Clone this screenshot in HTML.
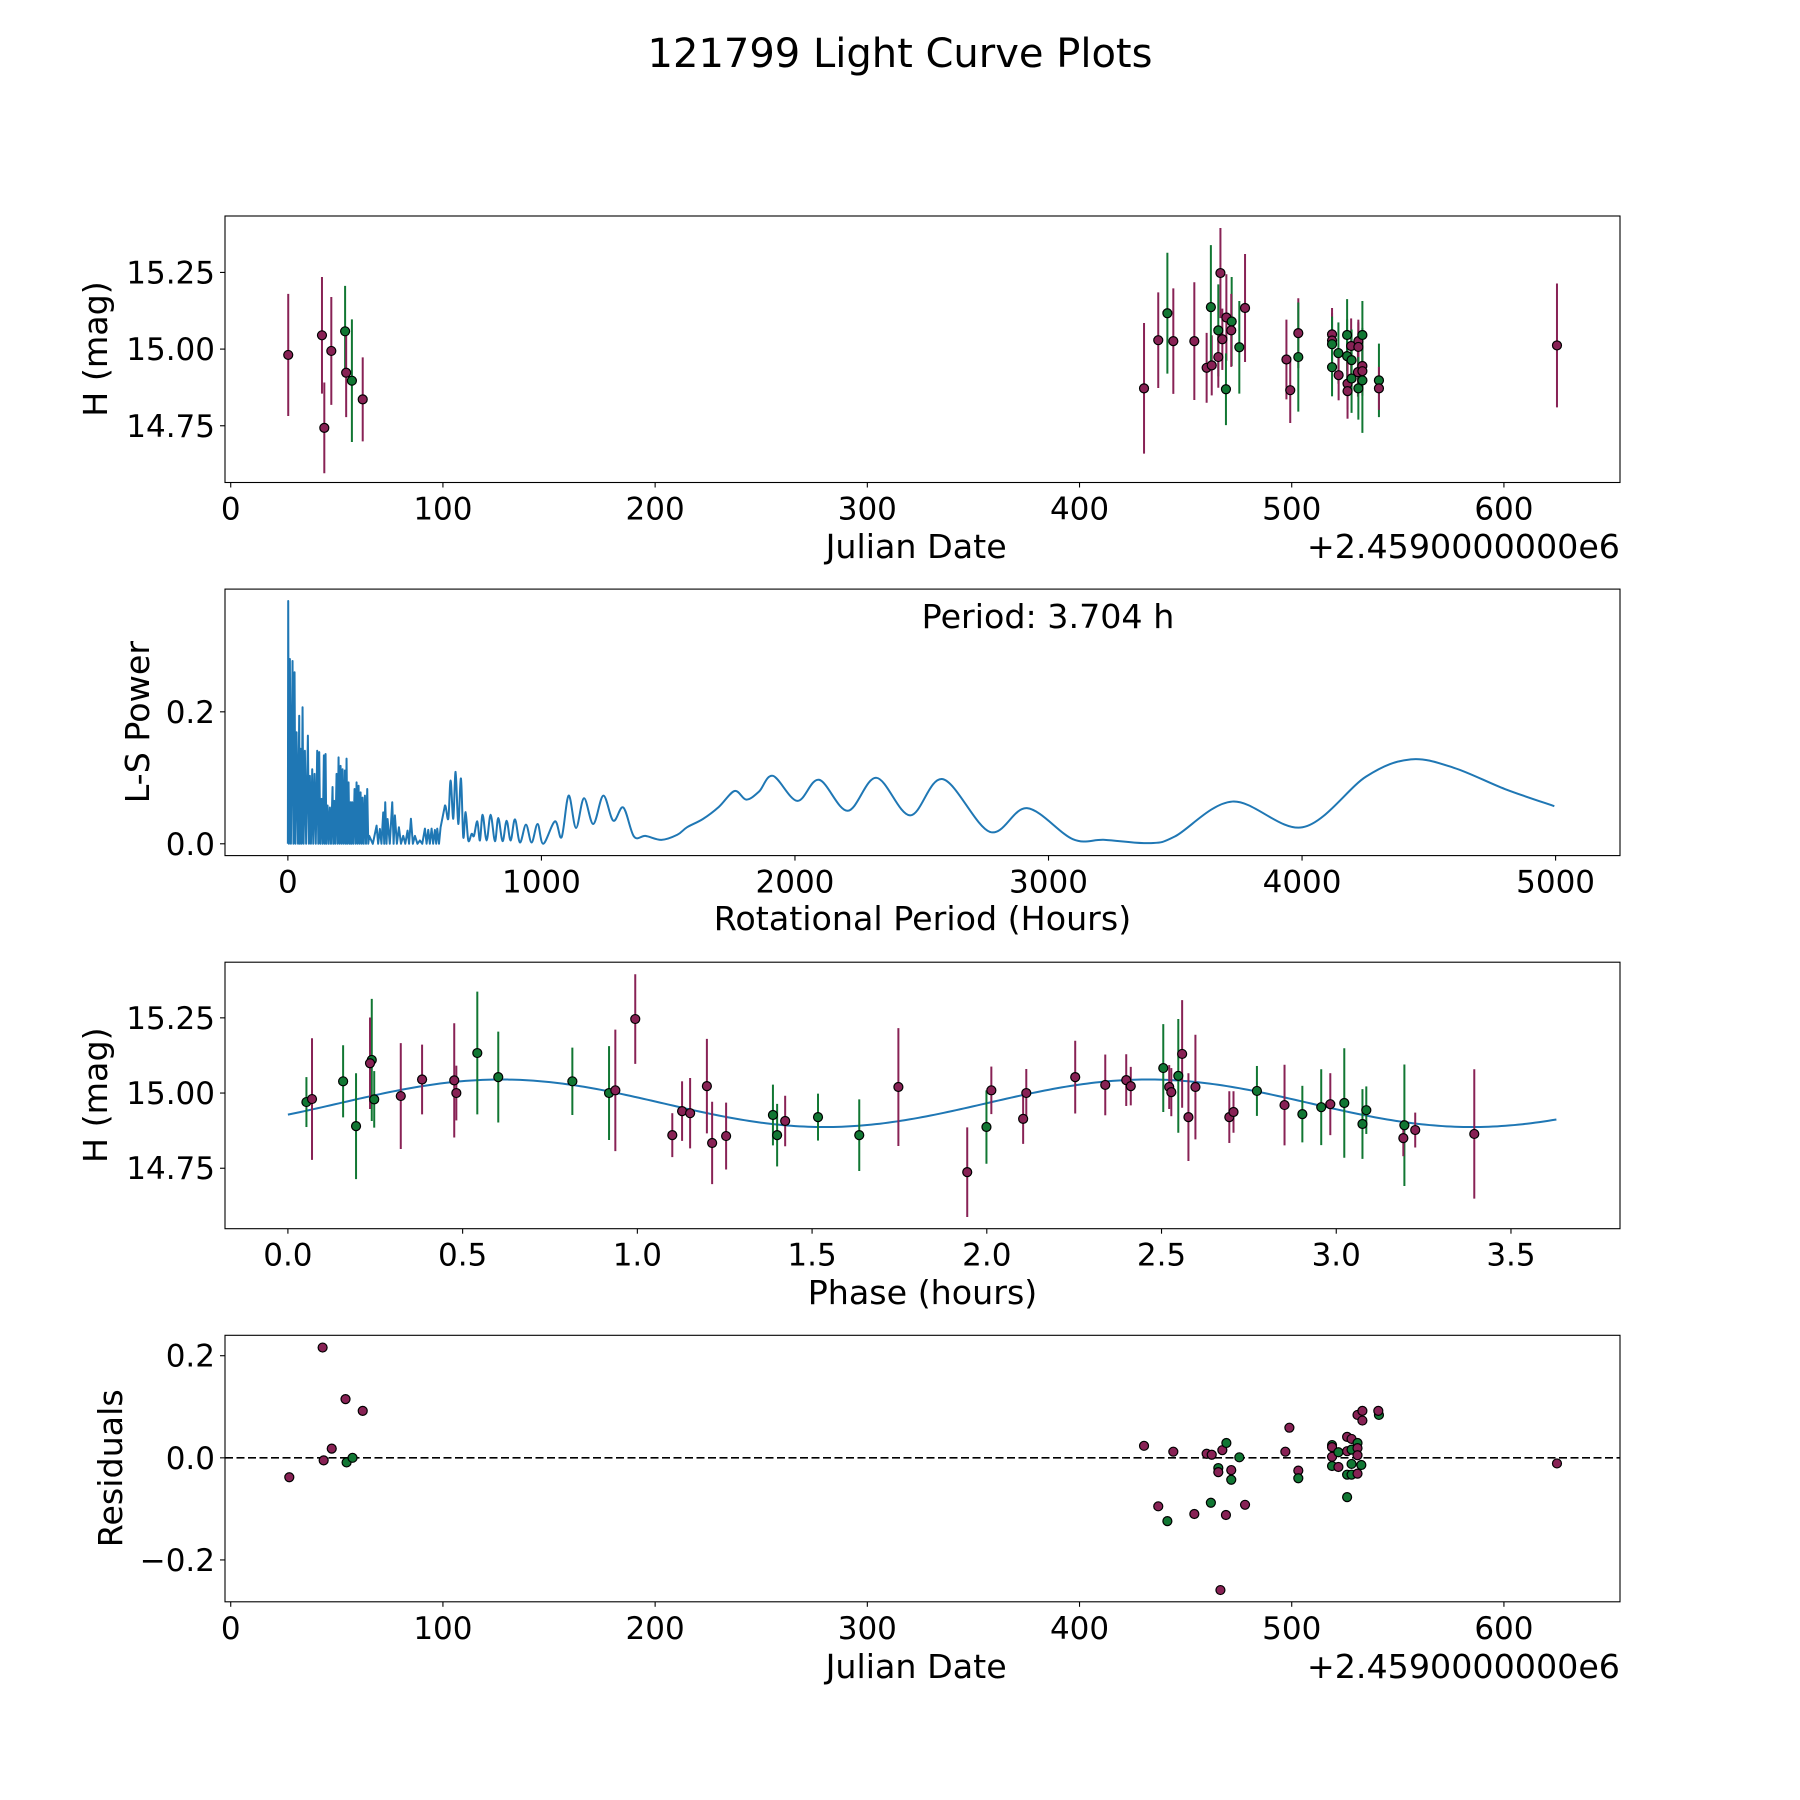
<!DOCTYPE html>
<html><head><meta charset="utf-8">
<style>
html,body{margin:0;padding:0;background:#fff;}
svg{display:block;font-family:"DejaVu Sans","Liberation Sans",sans-serif;}
</style></head>
<body>
<svg id="fig" width="1800" height="1800" viewBox="0 0 1800 1800" xmlns="http://www.w3.org/2000/svg">
<rect x="0" y="0" width="1800" height="1800" fill="#fff"/>
<text x="900" y="67" text-anchor="middle" font-size="40" fill="#000">121799 Light Curve Plots</text>
</svg>
<script>
// ---------- Panel 1: light curve vs Julian date ----------
const lcDates = [27.1,43.0,44.1,47.4,53.9,54.4,57.1,62.2,
 430.4,437.1,441.4,444.2,454.1,459.9,462.3,461.9,466.4,465.4,465.4,467.3,469.2,469.0,471.7,471.5,475.3,478.0,
 497.5,499.3,503.1,503.1,519.0,519.0,519.0,519.0,522.0,522.1,526.1,526.1,526.3,526.3,528.0,528.2,528.2,
 531.4,531.4,531.2,531.4,533.3,533.3,533.3,533.3,541.1,541.1,625.0];
const lcMags = [14.981,15.045,14.743,14.994,15.058,14.923,14.897,14.836,
 14.872,15.029,15.117,15.026,15.026,14.939,14.947,15.137,15.248,15.061,14.974,15.032,15.103,14.869,15.090,15.061,15.006,15.134,
 14.966,14.866,15.052,14.974,15.048,15.028,15.016,14.941,14.987,14.915,15.046,14.977,14.887,14.863,15.010,14.964,14.904,
 15.026,15.007,14.925,14.872,15.046,14.945,14.928,14.898,14.898,14.872,15.012];
const lcErrs = [0.199,0.19,0.148,0.176,0.148,0.145,0.2,0.137,
 0.213,0.156,0.197,0.172,0.192,0.114,0.098,0.202,0.147,0.15,0.1,0.1,0.141,0.117,0.145,0.119,0.151,0.176,
 0.13,0.107,0.114,0.178,0.086,0.09,0.09,0.095,0.1,0.082,0.117,0.12,0.084,0.09,0.09,0.1,0.112,
 0.07,0.08,0.08,0.102,0.111,0.08,0.08,0.171,0.12,0.07,0.202];
const lcBands = ['r','r','r','r','g','r','g','r',
 'r','r','g','r','r','r','r','g','r','g','r','r','r','g','g','r','g','r',
 'r','r','r','g','r','r','g','g','g','r','g','g','r','r','r','g','g',
 'r','r','r','g','g','r','r','g','g','r','r'];
const p1XTicks = [0,100,200,300,400,500,600];
const p1YTicks = [14.75,15.00,15.25];
const p1YTickLabels = ['14.75','15.00','15.25'];

// ---------- Panel 2: Lomb-Scargle periodogram ----------
const lsPeriods = [0,1.3,4,7.9,12,18.4,22,26.3,30,34.2,40,44.7,47,50.0,54,57.9,62,67.1,72,78.9,83,86.8,91,96.0,100,105.2,110,115.7,120,123.6,128,132.8,137,142.0,145,148.6,152,156.5,161,165.7,170,176.2,179,182.8,187,192.0,196,199.9,204,207.8,212,215.7,220,224.9,228,231.4,235,239.3,243,247.2,250,253.8,258,263.0,267,270.9,275,278.8,283,286.7,291,294.6,299,303.8,308,313.0,317,320.9,
 335,349.8,356,362.9,369,376.1,380,384.0,389,393.2,402,411.6,417,422.1,430,437.9,446,455.0,463,472.1,478,485.3,493,501.1,511,520.8,530,540.5,547,553.6,560,566.8,573,579.9,585,589.1,596,602.3,
 619.4,632.6,641.8,652.3,661.5,672.0,682.6,691.8,701.0,711.5,724.7,733.9,747.0,757.5,768.0,783.8,799.6,816.7,829.8,846.9,862.7,878.5,895.6,915.3,939.0,961.3,985.0,1007.4,1053.4,1079.7,1107.3,1136.3,1167.8,1204.6,1244.1,1283.5,1323,
 1365,1410,1473,1536,1574,1637,1700,1762,1808,1858,1913,2009,2095,2208,2321,2454,2583,2769,2915,3096,3222,3398,3498,3725,4002,4253,4429,4600,4800,4995];
const lsPowers = [0,0.368,0,0.280,0,0.277,0,0.260,0,0.169,0,0.194,0,0.144,0,0.207,0,0.141,0,0.164,0,0.103,0,0.113,0,0.106,0,0.141,0,0.139,0,0.068,0,0.134,0,0.136,0,0.058,0,0.055,0,0.086,0,0.065,0,0.106,0,0.131,0,0.118,0,0.113,0,0.111,0,0.129,0,0.093,0,0.063,0,0.063,0,0.083,0,0.093,0,0.088,0,0.078,0,0.070,0,0.073,0,0.083,0,0.012,
 0,0.0275,0,0.0225,0,0.0477,0,0.063,0,0.0376,0,0.063,0,0.043,0,0.025,0,0.012,0,0.020,0,0.038,0,0.012,0,0.005,0,0.023,0,0.021,0,0.023,0,0.021,0,0.023,0,0.025,
 0.058,0.038,0.096,0.038,0.109,0.030,0.099,0.010,0.048,0.005,0.015,0.012,0.034,0.005,0.044,0.005,0.044,0.004,0.039,0.004,0.035,0.005,0.037,0.002,0.029,0.002,0.030,0.0,0.034,0.010,0.073,0.024,0.069,0.030,0.073,0.035,0.055,
 0.011,0.012,0.006,0.0137,0.025,0.0376,0.056,0.08,0.067,0.079,0.103,0.065,0.097,0.05,0.1,0.043,0.098,0.018,0.054,0.007,0.006,0.001,0.011,0.064,0.025,0.102,0.128,0.115,0.083,0.057];
const smoothFromPeriod = 619;
const p2XTicks = [0,1000,2000,3000,4000,5000];
const p2YTicks = [0.0,0.2];
const p2YTickLabels = ['0.0','0.2'];
const bestPeriod = 3.704;

// ---------- Panel 3: phased light curve ----------
const phPhases = [0.053,0.069,0.158,0.195,0.24,0.235,0.247,0.323,0.384,0.476,0.482,0.542,0.602,0.814,0.919,0.937,0.994,1.1,1.128,1.151,1.199,1.214,
 1.254,1.388,1.4,1.423,1.517,1.635,1.747,1.944,1.999,2.013,2.104,2.113,2.253,2.339,2.399,2.412,
 2.505,2.522,2.528,2.548,2.559,2.577,2.597,2.694,2.706,2.773,2.852,2.903,2.957,2.983,3.023,3.075,3.086,3.195,3.192,3.226,3.395];
const phMags = [14.970,14.980,15.039,14.890,15.110,15.099,14.979,14.990,15.045,15.042,15.000,15.133,15.053,15.039,15.000,15.009,15.246,14.860,14.940,14.933,15.023,14.834,
 14.857,14.927,14.860,14.907,14.920,14.860,15.020,14.737,14.887,15.009,14.914,15.000,15.053,15.027,15.043,15.023,
 15.083,15.020,15.003,15.057,15.130,14.920,15.020,14.920,14.937,15.007,14.960,14.930,14.953,14.963,14.967,14.897,14.943,14.893,14.850,14.877,14.864];
const phErrs = [0.083,0.202,0.12,0.176,0.203,0.152,0.094,0.176,0.116,0.19,0.091,0.204,0.151,0.112,0.156,0.202,0.149,0.073,0.099,0.117,0.157,0.137,
 0.111,0.101,0.104,0.084,0.078,0.119,0.196,0.149,0.122,0.079,0.083,0.08,0.121,0.101,0.086,0.064,
 0.146,0.073,0.08,0.189,0.179,0.146,0.174,0.086,0.069,0.083,0.134,0.094,0.126,0.103,0.182,0.116,0.079,0.202,0.06,0.058,0.215];
const phBands = ['g','r','g','g','g','r','g','r','r','r','r','g','g','g','g','r','r','r','r','r','r','r',
 'r','g','g','r','g','g','r','r','g','r','r','r','r','r','r','r',
 'g','r','r','g','r','r','r','r','r','g','r','g','g','r','g','g','g','g','r','r','r'];
const fitMean = 14.966, fitAmp = 0.079, fitPeakPhase = 0.61, fitEndPhase = 3.63;
const p3XTicks = [0.0,0.5,1.0,1.5,2.0,2.5,3.0,3.5];
const p3XTickLabels = ['0.0','0.5','1.0','1.5','2.0','2.5','3.0','3.5'];
const p3YTicks = [14.75,15.00,15.25];
const p3YTickLabels = ['14.75','15.00','15.25'];

// ---------- Panel 4: residuals ----------
const resDates = [27.6,43.3,43.8,47.6,54.1,54.6,57.4,62.2,
 430.4,437.1,441.4,444.2,454.1,459.9,462.3,461.9,466.4,465.4,465.4,467.3,469.2,469.0,471.5,471.5,475.3,478.0,
 497.0,498.9,503.1,503.1,519.0,519.0,519.0,519.0,522.0,522.0,526.1,526.1,526.1,526.1,528.2,528.2,528.2,528.2,
 531.0,531.0,531.0,531.0,531.0,533.3,533.3,532.8,541.1,540.8,625.0];
const resVals = [-0.038,0.216,-0.005,0.018,0.115,-0.009,0.0,0.092,
 0.0235,-0.095,-0.124,0.012,-0.11,0.008,0.006,-0.088,-0.259,-0.02,-0.028,0.015,0.029,-0.112,-0.024,-0.043,0.001,-0.092,
 0.012,0.059,-0.025,-0.04,0.025,0.021,0.002,-0.016,0.011,-0.018,0.041,0.013,-0.033,-0.077,0.037,0.016,-0.012,-0.033,
 0.084,0.029,0.019,0.005,-0.031,0.092,0.073,-0.014,0.084,0.092,-0.011];
const resBands = ['r','r','r','r','r','g','g','r',
 'r','r','g','r','r','r','r','g','r','g','r','r','g','r','r','g','g','r',
 'r','r','r','g','g','r','r','g','g','r','r','r','g','g','r','g','g','g',
 'r','g','r','r','r','r','r','g','g','r','r'];
const p4XTicks = [0,100,200,300,400,500,600];
const p4YTicks = [-0.2,0.0,0.2];
const p4YTickLabels = ['\u22120.2','0.0','0.2'];

const NS = 'http://www.w3.org/2000/svg';
const svg = document.getElementById('fig');
const COL = {r:'#882255', g:'#117733'};
const LBL = 33.3;
const TK = 31;
function mk(tag, attrs, parent){
  const e = document.createElementNS(NS, tag);
  for (const k in attrs) e.setAttribute(k, attrs[k]);
  (parent||svg).appendChild(e);
  return e;
}
function axes(top,bottom,xmin,xmax,ymin,ymax){
  const L=225,R=1620;
  return {L,R,top,bottom,
    x:v=>L+(v-xmin)/(xmax-xmin)*(R-L),
    y:v=>bottom-(v-ymin)/(ymax-ymin)*(bottom-top)};
}
function frame(ax, name){
  const g = mk('g',{});
  
  
  return g;
}
function spines(ax, g){
  const r = mk('rect',{x:ax.L,y:ax.top,width:ax.R-ax.L,height:ax.bottom-ax.top,fill:'none',stroke:'#000','stroke-width':1.1},g);
  
  
}
function xticks(ax, g, ticks, labels){
  ticks.forEach((t,i)=>{
    const X = ax.x(t);
    const tk = mk('line',{x1:X,x2:X,y1:ax.bottom,y2:ax.bottom+5,stroke:'#000','stroke-width':1.1},g);
    
    
    const tx = mk('text',{x:X,y:ax.bottom+37,'text-anchor':'middle','font-size':TK,fill:'#000'},g);
    tx.textContent = labels ? labels[i] : String(t);
    
    
  });
}
function yticks(ax, g, ticks, labels){
  ticks.forEach((t,i)=>{
    const Y = ax.y(t);
    const tk = mk('line',{x1:ax.L-5,x2:ax.L,y1:Y,y2:Y,stroke:'#000','stroke-width':1.1},g);
    
    
    const tx = mk('text',{x:ax.L-10,y:Y+11,'text-anchor':'end','font-size':TK,fill:'#000'},g);
    tx.textContent = labels[i];
    
    
  });
}
function label(g, x, y, txt, rot, name, anchor, fs){
  const t = mk('text',{x:x,y:y,'text-anchor':anchor||'middle','font-size':fs||LBL,fill:'#000'},g);
  if (rot) t.setAttribute('transform','rotate(-90 '+x+' '+y+')');
  t.textContent = txt;
  
  
}
function errPoints(ax, g, xs, ys, es, bs){
  xs.forEach((v,i)=>{
    const X=ax.x(v);
    const eb = mk('line',{x1:X,x2:X,y1:ax.y(ys[i]+es[i]),y2:ax.y(ys[i]-es[i]),stroke:COL[bs[i]],'stroke-width':2},g);
    
    
  });
  xs.forEach((v,i)=>{
    const c = mk('circle',{cx:ax.x(v),cy:ax.y(ys[i]),r:4.5,fill:COL[bs[i]],stroke:'#000','stroke-width':1.2},g);
    
    
  });
}

// Panel 1
const a1 = axes(216,482.5,-2.7,654.7,14.565,15.434);
const g1 = frame(a1,'light-curve-panel');
errPoints(a1,g1,lcDates,lcMags,lcErrs,lcBands);
spines(a1,g1);
xticks(a1,g1,p1XTicks);
yticks(a1,g1,p1YTicks,p1YTickLabels);
label(g1,a1.x(323),558,'Julian Date',false,'x-axis-title');
label(g1,1620,558,'+2.4590000000e6',false,'x-offset-label','end');
label(g1,107,a1.top+133,'H (mag)',true,'y-axis-title');

// Panel 2
const a2 = axes(589.1,855.6,-248,5254,-0.0179,0.386);
const g2 = frame(a2,'periodogram-panel');
const px = lsPeriods.map(p=>a2.x(p)), py = lsPowers.map(v=>a2.y(v));
let pd = 'M'+px[0].toFixed(2)+' '+py[0].toFixed(2);
for (let i=1;i<px.length;i++){
  if (lsPeriods[i-1] >= smoothFromPeriod){
    const i0=Math.max(0,i-2), i3=Math.min(px.length-1,i+1);
    const c1x=px[i-1]+(px[i]-px[i0])/6, c1y=py[i-1]+(py[i]-py[i0])/6;
    const c2x=px[i]-(px[i3]-px[i-1])/6, c2y=py[i]-(py[i3]-py[i-1])/6;
    pd += ' C'+c1x.toFixed(2)+' '+c1y.toFixed(2)+' '+c2x.toFixed(2)+' '+c2y.toFixed(2)+' '+px[i].toFixed(2)+' '+py[i].toFixed(2);
  } else {
    pd += ' L'+px[i].toFixed(2)+' '+py[i].toFixed(2);
  }
}
const lsLine = mk('path',{d:pd,fill:'none',stroke:'#1f77b4','stroke-width':2,'stroke-linejoin':'round'},g2);


spines(a2,g2);
xticks(a2,g2,p2XTicks);
yticks(a2,g2,p2YTicks,p2YTickLabels);
label(g2,(a2.L+a2.R)/2,930,'Rotational Period (Hours)',false,'x-axis-title');
label(g2,149,a2.top+133,'L-S Power',true,'y-axis-title');
label(g2,1048,628,'Period: '+bestPeriod.toFixed(3)+' h',false,'period-annotation');

// Panel 3
const a3 = axes(962.2,1228.7,-0.18,3.812,14.549,15.435);
const g3 = frame(a3,'phased-light-curve-panel');
const fitPts=[];
for(let k=0;k<=300;k++){
  const ph = fitEndPhase*k/300;
  const m = fitMean + fitAmp*Math.cos(2*Math.PI*(ph-fitPeakPhase)/(bestPeriod/2));
  fitPts.push((k?'L':'M')+a3.x(ph).toFixed(2)+' '+a3.y(m).toFixed(2));
}
const fit = mk('path',{d:fitPts.join(' '),fill:'none',stroke:'#1f77b4','stroke-width':2},g3);


errPoints(a3,g3,phPhases,phMags,phErrs,phBands);
spines(a3,g3);
xticks(a3,g3,p3XTicks,p3XTickLabels);
yticks(a3,g3,p3YTicks,p3YTickLabels);
label(g3,(a3.L+a3.R)/2,1304,'Phase (hours)',false,'x-axis-title');
label(g3,107,a3.top+133,'H (mag)',true,'y-axis-title');

// Panel 4
const a4 = axes(1335.3,1601.8,-2.7,654.7,-0.282,0.24);
const g4 = frame(a4,'residuals-panel');
const zl = mk('line',{x1:a4.L,x2:a4.R,y1:a4.y(0),y2:a4.y(0),stroke:'#000','stroke-width':1.6,'stroke-dasharray':'8,3.5'},g4);


resDates.forEach((d,i)=>{
  const c = mk('circle',{cx:a4.x(d),cy:a4.y(resVals[i]),r:4.5,fill:COL[resBands[i]],stroke:'#000','stroke-width':1.2},g4);
  
  
});
spines(a4,g4);
xticks(a4,g4,p4XTicks);
yticks(a4,g4,p4YTicks,p4YTickLabels);
label(g4,a4.x(323),1678,'Julian Date',false,'x-axis-title');
label(g4,1620,1678,'+2.4590000000e6',false,'x-offset-label','end');
label(g4,122,a4.top+133,'Residuals',true,'y-axis-title');
</script>
</body></html>
